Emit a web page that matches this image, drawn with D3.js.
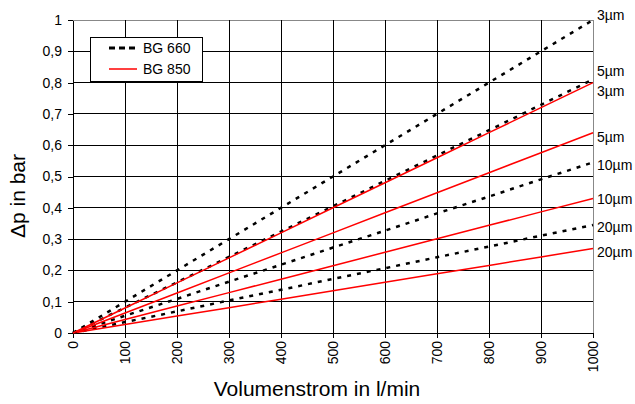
<!DOCTYPE html>
<html>
<head>
<meta charset="utf-8">
<script src="https://cdn.jsdelivr.net/npm/d3@7"></script>
<style>
  body { margin: 0; background: #fff; }
  text { font-family: "Liberation Sans", Arial, sans-serif; fill: #000; }
</style>
</head>
<body>
<svg id="chart" width="635" height="404"></svg>
<script>
// flow in l/min
let flow = [0, 100, 200, 300, 400, 500, 600, 700, 800, 900, 1000];

// pressure drop in bar
let bg660_3 = [0, 0.10, 0.20, 0.30, 0.40, 0.50, 0.60, 0.70, 0.80, 0.90, 1.00];
let bg660_5 = [0, 0.081, 0.162, 0.243, 0.324, 0.405, 0.486, 0.567, 0.648, 0.729, 0.81];
let bg660_10 = [0, 0.055, 0.109, 0.164, 0.218, 0.273, 0.327, 0.382, 0.436, 0.491, 0.545];
let bg660_20 = [0, 0.035, 0.069, 0.104, 0.138, 0.173, 0.207, 0.242, 0.276, 0.311, 0.345];
let bg850_3 = [0, 0.08, 0.16, 0.24, 0.32, 0.40, 0.48, 0.56, 0.64, 0.72, 0.80];
let bg850_5 = [0, 0.064, 0.128, 0.192, 0.256, 0.32, 0.384, 0.448, 0.512, 0.576, 0.64];
let bg850_10 = [0, 0.043, 0.086, 0.129, 0.172, 0.215, 0.258, 0.301, 0.344, 0.387, 0.43];
let bg850_20 = [0, 0.027, 0.054, 0.081, 0.108, 0.135, 0.162, 0.189, 0.216, 0.243, 0.27];

let seriesNames = ["BG 660", "BG 850"];
let curveLabels = ["3µm", "5µm", "10µm", "20µm"];
let yTicks = [0, 0.1, 0.2, 0.3, 0.4, 0.5, 0.6, 0.7, 0.8, 0.9, 1];

let margins = { top: 20, right: 42, bottom: 71, left: 73 };
let width = 635 - margins.left - margins.right;
let height = 404 - margins.top - margins.bottom;

let xScale = d3.scaleLinear().domain([0, 1000]).range([0, width]);
let yScale = d3.scaleLinear().domain([0, 1]).range([height, 0]);

let svg = d3.select("#chart");
let graph = svg.append("g")
  .attr("transform", "translate(" + margins.left + "," + margins.top + ")");

// grid
graph.append("g")
  .selectAll("line")
  .data(yTicks.slice(1))
  .join("line")
  .attr("x1", 0).attr("x2", width)
  .attr("y1", d => yScale(d)).attr("y2", d => yScale(d))
  .style("stroke", d => d === 1 ? "#888" : "#000")
  .style("shape-rendering", "crispEdges");
graph.append("g")
  .selectAll("line")
  .data(flow.slice(1))
  .join("line")
  .attr("x1", d => xScale(d)).attr("x2", d => xScale(d))
  .attr("y1", 0).attr("y2", height)
  .style("stroke", d => d === 1000 ? "#888" : "#000")
  .style("shape-rendering", "crispEdges");

// axes
let xAxis = d3.axisBottom(xScale).tickValues(flow).tickSize(5).tickSizeOuter(0).tickFormat(d3.format("d"));
let yAxis = d3.axisLeft(yScale).tickValues(yTicks).tickSize(5).tickSizeOuter(0)
  .tickFormat(d => String(d).replace(".", ","));

let gx = graph.append("g")
  .attr("transform", "translate(0," + height + ")")
  .call(xAxis);
gx.selectAll("text")
  .attr("transform", "rotate(-90)")
  .attr("x", -8).attr("y", 0).attr("dy", "0.35em")
  .style("text-anchor", "end");

let gy = graph.append("g").call(yAxis);
gy.selectAll("text").attr("x", -11);

graph.selectAll(".domain").style("stroke", "#000").style("shape-rendering", "crispEdges");
graph.selectAll(".tick line").style("stroke", "#000").style("shape-rendering", "crispEdges");
graph.selectAll(".tick text").style("font-size", "14px").style("font-family", "Liberation Sans, Arial, sans-serif");

// curves
let line = d3.line()
  .x((d, i) => xScale(flow[i]))
  .y(d => yScale(d));

let curves = [
  { values: bg660_20, series: 0, label: curveLabels[3], shift: 2 },
  { values: bg850_20, series: 1, label: curveLabels[3], shift: 4 },
  { values: bg660_10, series: 0, label: curveLabels[2], shift: 3 },
  { values: bg850_10, series: 1, label: curveLabels[2], shift: 1 },
  { values: bg660_5, series: 0, label: curveLabels[1], shift: -8 },
  { values: bg850_5, series: 1, label: curveLabels[1], shift: 4 },
  { values: bg660_3, series: 0, label: curveLabels[0], shift: -5 },
  { values: bg850_3, series: 1, label: curveLabels[0], shift: 8 }
];

graph.selectAll(".curve")
  .data(curves)
  .join("path")
  .attr("class", "curve")
  .attr("d", d => line(d.values))
  .style("fill", "none")
  .style("stroke", d => d.series === 0 ? "#000" : "#ff0000")
  .style("stroke-width", d => d.series === 0 ? 2.5 : 1.5)
  .style("stroke-dasharray", d => d.series === 0 ? "4,6" : null);

graph.selectAll(".curve-label")
  .data(curves)
  .join("text")
  .attr("class", "curve-label")
  .attr("x", width + 4)
  .attr("y", d => yScale(d.values[d.values.length - 1]) + d.shift)
  .attr("dy", "0.35em")
  .style("font-size", "14px")
  .text(d => d.label);

// legend
let legend = graph.append("g").attr("transform", "translate(17,17)");
legend.append("rect")
  .attr("width", 112).attr("height", 44)
  .style("fill", "#fff").style("stroke", "#000")
  .style("shape-rendering", "crispEdges");
let legendItems = legend.selectAll(".item")
  .data(seriesNames)
  .join("g")
  .attr("transform", (d, i) => "translate(0," + (11 + i * 21) + ")");
legendItems.append("line")
  .attr("x1", 19).attr("x2", 47)
  .style("stroke", (d, i) => i === 0 ? "#000" : "#ff0000")
  .style("stroke-width", (d, i) => i === 0 ? 3 : 1.5)
  .style("stroke-dasharray", (d, i) => i === 0 ? "6,4" : null);
legendItems.append("text")
  .attr("x", 53).attr("dy", "0.35em")
  .style("font-size", "14px")
  .text(d => d);

// axis titles
svg.append("text")
  .attr("x", 317).attr("y", 396)
  .style("text-anchor", "middle")
  .style("font-size", "21px")
  .text("Volumenstrom in l/min");
svg.append("text")
  .attr("transform", "translate(25,196) rotate(-90)")
  .style("text-anchor", "middle")
  .style("font-size", "21px")
  .text("Δp in bar");
</script>
</body>
</html>
